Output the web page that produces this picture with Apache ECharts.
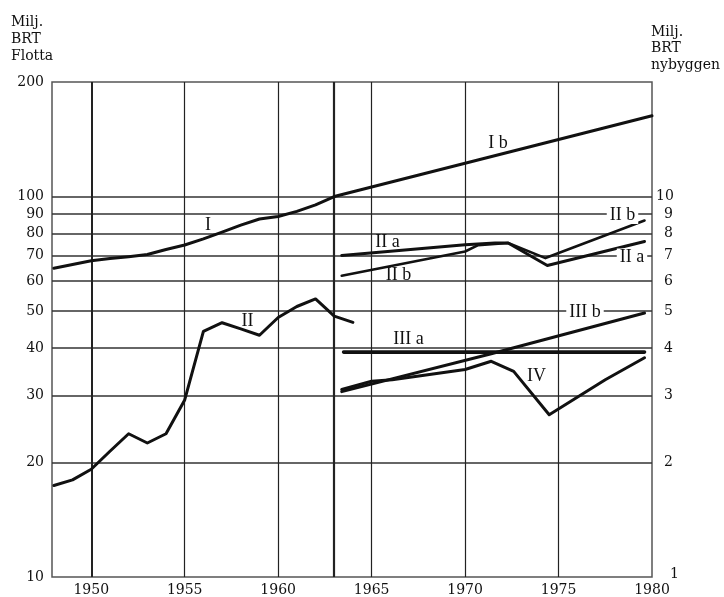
<!DOCTYPE html>
<html>
<head>
<meta charset="utf-8">
<script src="https://cdn.jsdelivr.net/npm/echarts@6/dist/echarts.min.js"></script>
<style>
  html, body { margin: 0; padding: 0; background: #fff; }
  #chart { width: 724px; height: 597px; }
</style>
</head>
<body>
<div id="chart"></div>
<script>
// Fleet, million GRT (left axis)
const yearsI   = [1948, 1949, 1950, 1951, 1952, 1953, 1954, 1955, 1956, 1957, 1958, 1959, 1960, 1961, 1962, 1963];
const fleetI   = [64.8, 66.3, 67.8, 68.7, 69.5, 70.4, 72.6, 74.6, 77.4, 80.6, 84.1, 87.3, 88.6, 91.4, 95.1, 100];
const yearsIb  = [1963, 1980];
const fleetIb  = [100, 163];
const yearsII  = [1948, 1949, 1950, 1951, 1952, 1953, 1954, 1955, 1956, 1957, 1958, 1959, 1960, 1961, 1962, 1963, 1964];
const fleetII  = [17.4, 18.0, 19.2, 21.4, 23.8, 22.5, 23.8, 29.2, 44.2, 46.6, 44.9, 43.2, 48.1, 51.4, 53.8, 48.5, 46.7];

// Newbuilding, million GRT (right axis)
const yearsIIa  = [1963.4, 1970, 1971.6, 1972.3, 1974.4, 1979.6];
const buildIIa  = [7.0, 7.47, 7.55, 7.55, 6.59, 7.62];
const yearsIIb  = [1963.4, 1970, 1970.7, 1972.3, 1974.3, 1979.6];
const buildIIb  = [6.19, 7.17, 7.45, 7.55, 6.89, 8.65];
const yearsIIIa = [1963.5, 1979.6];
const buildIIIa = [3.9, 3.9];
const yearsIIIb = [1963.4, 1971.4, 1979.6];
const buildIIIb = [3.07, 3.86, 4.94];
const yearsIV   = [1963.4, 1965, 1966.1, 1970, 1971.4, 1972.6, 1974.5, 1977.5, 1979.6];
const buildIV   = [3.11, 3.27, 3.30, 3.51, 3.69, 3.47, 2.67, 3.30, 3.77];

// Axis ticks
const xTicks     = [1950, 1955, 1960, 1965, 1970, 1975, 1980];
const gridYears  = [1950, 1955, 1960, 1963, 1965, 1970, 1975];
const leftTicks  = [10, 20, 30, 40, 50, 60, 70, 80, 90, 100, 200];
const rightTicks = [1, 2, 3, 4, 5, 6, 7, 8, 9, 10];

const zip = (xs, ys) => xs.map((x, i) => [x, ys[i]]);

const SERIF = '"DejaVu Serif", "Liberation Serif", serif';
const ROMAN = '"Liberation Serif", "DejaVu Serif", serif';
const INK = '#111';

const chart = echarts.init(document.getElementById('chart'), null, { renderer: 'canvas' });

function curve(name, xs, ys, axis, width) {
  return {
    name, type: 'line', yAxisIndex: axis, data: zip(xs, ys),
    showSymbol: false, symbol: 'none', smooth: false, z: 5,
    lineStyle: { color: INK, width: width || 3, cap: 'round', join: 'round' },
    silent: true
  };
}

const thickYears = { 1950: 2, 1963: 2.2 };

const option = {
  animation: false,
  backgroundColor: '#ffffff',
  grid: {
    show: true, left: 52, right: 72, top: 82, bottom: 19,
    borderColor: '#555', borderWidth: 1.5, backgroundColor: 'transparent'
  },
  xAxis: {
    type: 'value', min: 1947.9, max: 1980,
    axisLine: { show: false }, axisTick: { show: false }, splitLine: { show: false },
    axisLabel: {
      customValues: xTicks, margin: 6,
      formatter: v => String(Math.round(v)),
      color: INK, fontFamily: SERIF, fontSize: 14
    }
  },
  yAxis: [
    {
      type: 'log', logBase: 10, min: 10, max: 200,
      axisLine: { show: false }, axisTick: { show: false },
      axisLabel: { show: false }, splitLine: { show: false }
    },
    {
      type: 'log', logBase: 10, min: 1, max: 20, position: 'right',
      axisLine: { show: false }, axisTick: { show: false },
      axisLabel: { show: false }, splitLine: { show: false }
    }
  ],
  series: [
    {
      // grid lines and left-hand scale
      name: 'left-grid', type: 'line', yAxisIndex: 0, data: [], z: 1, silent: true,
      markLine: {
        silent: true, symbol: ['none', 'none'], animation: false,
        label: {
          show: true, position: 'start', formatter: '{b}', distance: 8,
          color: INK, fontFamily: SERIF, fontSize: 14
        },
        data: leftTicks.map(v => ({
          yAxis: v, name: String(v),
          lineStyle: (v === 10 || v === 200)
            ? { color: 'rgba(0,0,0,0)', width: 0, type: 'solid' }
            : { color: '#333', width: 1.6, type: 'solid' }
        })).concat(gridYears.map(y => ({
          xAxis: y, name: '',
          label: { show: false },
          lineStyle: { color: '#222', width: thickYears[y] || 1.2, type: 'solid' }
        })))
      }
    },
    {
      // right-hand scale labels
      name: 'right-scale', type: 'line', yAxisIndex: 1, data: [], z: 1, silent: true,
      markLine: {
        silent: true, symbol: ['none', 'none'], animation: false,
        label: {
          show: true, position: 'end', formatter: '{b}', distance: 12,
          color: INK, fontFamily: SERIF, fontSize: 14
        },
        lineStyle: { color: 'rgba(0,0,0,0)', width: 0, type: 'solid' },
        data: rightTicks.map(v => {
          const item = { yAxis: v, name: String(v) };
          if (v === 10) item.label = { distance: 4 };
          if (v === 1) item.label = { distance: 18, offset: [0, -3] };
          return item;
        })
      }
    },
    curve('I', yearsI, fleetI, 0, 3),
    curve('I b', yearsIb, fleetIb, 0, 3),
    curve('II', yearsII, fleetII, 0, 3),
    curve('II a', yearsIIa, buildIIa, 1, 3),
    curve('II b', yearsIIb, buildIIb, 1, 2.6),
    curve('III a', yearsIIIa, buildIIIa, 1, 3.6),
    curve('III b', yearsIIIb, buildIIIb, 1, 3),
    curve('IV', yearsIV, buildIV, 1, 3)
  ],
  graphic: [
    { type: 'text', left: 11, top: 14, z: 10,
      style: { text: 'Milj.\nBRT\nFlotta', font: '14px ' + SERIF, fill: INK, lineHeight: 17 } },
    { type: 'text', left: 651, top: 24, z: 10,
      style: { text: 'Milj.\nBRT\nnybyggen', font: '14px ' + SERIF, fill: INK, lineHeight: 16.5 } }
  ].concat([
    ['I b', 498, 143, false],
    ['I', 208, 225.5, false],
    ['II', 247.5, 321.5, false],
    ['II a', 387.5, 242, false],
    ['II b', 398.5, 275.5, false],
    ['II b', 622.5, 215, true],
    ['II a', 632, 257.5, true],
    ['III b', 585, 312, true],
    ['III a', 408.5, 339.5, false],
    ['IV', 536.5, 376.5, false]
  ].map(([t, x, y, bg]) => ({
    type: 'text', x, y, z: 10,
    style: Object.assign({
      text: t, font: '18px ' + ROMAN, fill: INK,
      align: 'center', verticalAlign: 'middle'
    }, bg ? { backgroundColor: '#fff', padding: [0, 3] } : {})
  })))
};

chart.setOption(option);
</script>
</body>
</html>
